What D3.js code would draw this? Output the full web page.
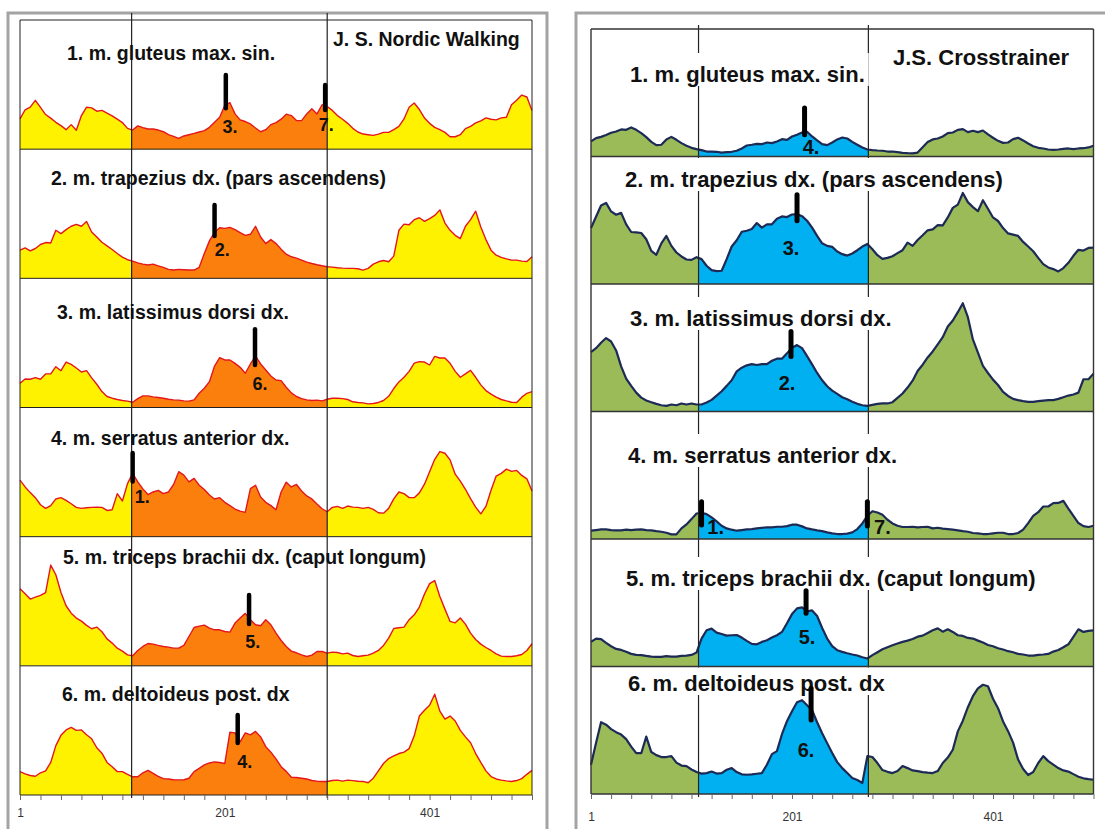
<!DOCTYPE html>
<html>
<head>
<meta charset="utf-8">
<script src="https://cdn.jsdelivr.net/npm/d3@7"></script>
<style>
  body { margin: 0; background: #fff; }
  svg { display: block; font-family: 'Liberation Sans', Arial, sans-serif; }
</style>
</head>
<body>
<svg id="chart" width="1105" height="829"></svg>
<script>
// sample index of every value below (one reading every 5 samples)
const samples = d3.range(1, 502, 5)
const tickLabels = ['1', '201', '401']

const rowTitles = [
  '1. m. gluteus max. sin.',
  '2. m. trapezius dx. (pars ascendens)',
  '3. m. latissimus dorsi dx.',
  '4. m. serratus anterior dx.',
  '5. m. triceps brachii dx. (caput longum)',
  '6. m. deltoideus post. dx'
]

// J. S. Nordic Walking, % of row height
const nordicGluteus = [23.4,30.5,32.5,37.8,32.3,26.8,24,20.8,18.2,15.1,19,14.6,26,32.5,32,29.4,30,27.9,25.8,23.2,20.6,16.1,14.8,18,16.7,15.6,15.6,14.8,13.5,11.2,9.9,8.3,10.2,11.2,12.2,13.3,14.3,16.9,20.8,24.7,33.9,36,27.3,22.7,21.4,19.5,16.4,13.5,15.1,19,20.6,23.2,27.1,26,22.1,22.1,27.3,31.3,27.3,34.4,33,30,26,23.2,20,16.1,13.3,11.7,11.2,10.7,11.7,13,13,15.1,17.7,23.4,32.5,35.7,30.7,24.2,20,16.9,15.1,13,9.6,9.6,11.2,15.9,17.7,20.3,21.9,24.2,23.2,22.7,24.2,24.7,34.4,37.8,41.9,40.4,30]
const nordicTrapezius = [21.8,23.6,21.3,23.1,26.2,27.7,27.4,37.2,34.6,37.7,40.3,41.8,40.3,44,35.9,32,27.9,25.1,22.3,19.2,16.4,14.4,13.3,12,11,10.3,11,9.7,8.5,6.9,6.4,6.9,6.7,6.4,6.4,8.5,19.2,29,35.6,39.2,38.7,39.5,37.7,35.4,33.3,34.1,40.3,32,26.9,30,26.9,22.6,18.7,16.7,15.6,14.1,12.6,11.5,10.5,9.7,9,8.7,8.2,7.9,7.7,7.7,7.4,6.4,7.7,11,12.8,13.8,12.8,17.2,37.2,42,41.5,45.4,46.9,44.1,46.2,48.7,53,42.8,37.2,33.3,30.8,40.3,45.4,52,39.7,30,21.8,17.9,16.2,15.1,14.1,14.1,13.3,13,16.7]
const nordicLatissimus = [18.8,22.1,21.9,23.1,21.9,26,26,31.6,28.5,35.2,33.4,30.6,27.5,28.5,22.9,18,12.3,8.5,7.2,6.2,5.4,4.9,4.1,6.9,9,9,8.2,7.7,7.2,6.4,5.9,5.7,5.1,4.9,5.9,11,14.9,20,32.1,38.6,36.8,36.8,34.2,31.1,26.5,33.7,39.8,33.7,29,24.4,21.3,20.8,15.7,11.3,8.5,6.9,5.9,5.4,5.7,5.1,6.4,7.2,7.2,6.9,6.2,4.4,3.9,3.6,2.8,3.1,3.9,5.4,8.7,14.7,19.8,23.4,28,34.4,35.5,35.2,32.9,39.6,38.3,38.3,34.2,28,23.4,26,28.8,23.4,17.5,13.1,10.3,8,6.2,5.1,4.1,3.9,8,11,12.3]
const nordicSerratus = [43.8,38.5,34.1,30.2,24.7,21.9,24,29.2,30.2,28.1,25.5,22.7,21.9,22.4,22.7,22.9,22.7,20.3,20.8,33.3,27.6,41.1,49,42.4,37,32.6,34.6,35.9,33.3,34.6,40.4,50.3,47.7,42.4,45.1,39.8,36.5,32.3,29.2,30.2,26.6,24,21.4,19.8,18.8,37.2,39.8,30.7,26.6,24,20.8,34.6,42.2,38.5,40.4,35.4,31.5,29.2,25.3,21.6,19.3,22.7,23.4,21.9,23.7,22.9,22.7,21.9,22.7,21.1,18.5,18.2,21.9,29.2,34.6,33.3,30.2,30.2,33.9,40.6,50.3,59.9,65.9,64.6,59.4,48.4,43,36.7,29.4,22.9,17.7,23.4,35.9,46.9,49,52.3,50.5,51.3,47.4,44.8,35.4]
const nordicTriceps = [59.7,55.8,51.7,53.2,54.5,56.6,78,70.5,56.8,46.5,40.8,37,34.6,31.3,28.7,30,26.4,20.9,17.6,13.7,11.4,8.5,7.8,11.9,15,17.3,16.8,15.8,15,14.5,13.7,13.7,15.8,22.7,29.7,30.7,31.5,29.2,27.9,27.9,26.6,26.1,33.1,37,40.6,35.7,31.8,31,35.7,31.8,25.3,19.6,15,11.4,10.1,8.5,7.2,8.3,11.1,11.1,9.8,10.6,10.3,9.3,9.8,8,7.2,7.8,8.3,9.8,11.9,15.8,21.4,28.9,29.5,30,35.7,39.5,45.5,55.6,63.6,66,53.7,43.9,34.4,33.3,37,32.3,25.3,20.4,16.8,14.2,11.9,9.3,7.5,7.2,7.2,7.8,8.8,11.9,17.1]
const nordicDeltoid = [18.1,16.4,15.1,14.5,17.2,18.7,25.2,38.2,46.2,50.4,52.3,50,50.4,46.7,43.5,36.6,32.4,25.2,21.8,18.1,18.1,16,14.1,14.1,17.2,19.1,16.8,14.5,12.7,12.4,11.8,11.7,11.8,13,18.1,20.6,23.3,24.8,25.6,25.2,24.4,48.6,48.1,41.2,48.1,46.6,49.2,45,37.4,33.2,28,21.9,18.3,13.7,13.5,13,12.4,11.2,10.7,10.5,10.5,11.2,11.5,10.7,11.5,11.1,10.7,10.5,9.5,13,18.7,24.4,28.2,30.2,32.1,33.2,35.9,45.8,61.1,65.6,69.5,78,64.9,58.8,61.1,57.3,50,45,40.5,32.1,25.2,18.7,14.3,12.4,11.5,10.9,10.5,11.2,12.7,16,19.1]

// J.S. Crosstrainer, % of row height
const crossGluteus = [11.8,14.4,15.4,16.8,18.6,19.6,21.2,20.9,22.8,20.9,18.3,15.2,11.5,8.9,9.2,13.4,15.4,13.1,10.5,8.4,6.8,5.8,5,3.9,3.9,3.7,3.1,3.4,3.7,4.5,6.3,8.6,9.2,9.9,9.7,11,10.5,11.8,13.6,13.1,15.7,17,18.8,19.4,15.7,12.6,9.7,8.9,11,13.4,14.9,14.1,11.5,9.2,7.1,5.5,5,4.7,4.5,3.9,3.9,3.4,2.9,2.6,2.4,3.1,7.3,11.3,13.4,14.1,15.7,18.3,18.8,20.9,21.5,19.1,20.2,19.1,20.4,17.3,14.7,12.3,10.7,11,13.6,14.7,12.6,10.2,8.1,6.8,6.3,5.5,5.2,5.5,6,6.3,5.8,6.3,6.5,7.1,8.4]
const crossTrapezius = [43.9,52.7,61.6,63.6,56.9,54.3,55.8,46.8,40.8,40.5,40,35.1,26,22.9,31.9,37.7,29.9,24.7,21.6,19.2,18.9,21,19.5,14.3,10.9,10.1,10.4,19.5,29.4,34.3,41,41.8,43.1,47.8,44.2,46.8,46.8,51.2,53,52.5,54.5,54.8,53.2,49.6,44.2,37.7,31.9,29.9,29.1,25.5,23.4,22.3,23.9,26.5,29.4,31.4,27.3,22.6,19.7,20.5,21.8,24.2,26.5,32.5,29.9,34.5,38.2,42.1,42.9,46.2,46,52.2,59.7,62.3,71.4,64.2,60.3,57.1,65.7,59,52.2,49.4,43.9,39.7,38.7,37.7,33,29.4,25.7,20.5,15.6,13,11.7,9.9,12.5,16.6,22.1,26.8,26.2,28.3,28.6]
const crossLatissimus = [46.6,49.7,53.9,57.6,54.9,47.9,35.4,25.8,20.1,14.8,10.9,8.6,7.3,6,4.9,4.4,5.5,4.9,6.3,5.5,6.3,5.5,5.5,7,9.1,12.5,15.9,20.1,24.5,31.5,34.4,36.2,37.2,36.5,37.2,37.2,39.8,41.4,41.4,45.6,50,52.1,49.7,43.5,37,30.2,24.5,19.8,16.4,13.8,11.2,9.6,7.6,6,4.9,4.4,5.2,6,6.3,6.3,7.3,10.7,14.1,18.8,24.2,31.8,36.7,42.4,47.1,52.6,58.3,66.7,71.4,77.9,84.9,74,56.5,46.1,35.7,30.2,25,20.8,15.4,12.2,9.9,8.9,8.1,7.6,7.6,8.1,8.6,8.9,8.9,9.9,11.2,12.5,13.3,14.8,25.3,25.3,29.7]
const crossSerratus = [6.5,7,7.5,7.5,7,6.8,6.8,7.3,7,7.3,7.5,7,6.8,6.2,5.7,4.9,3.6,3.6,8.3,11.4,15.6,20,20.5,19.5,16.9,13.8,10.4,8.3,7.3,6.5,7,7.5,7.8,8.3,8.8,9.1,9.1,9.6,9.6,10.1,11.2,11.2,9.9,8.3,7.5,6.8,6.2,5.2,4.4,3.9,3.9,4.2,5.2,7.8,12.2,18.2,21.8,20.8,19,15.1,12.2,10.4,9.4,9.4,9.6,9.1,9.4,9.6,8.3,8.8,8.1,7.8,7.3,6.8,6.2,5.7,4.7,4.4,3.9,3.9,4.4,4.9,4.9,3.9,3.9,4.7,7.3,12.5,18.2,21,25.5,25.5,28.1,28.3,29.9,23.9,18.2,12.5,10.1,9.4,10.4]
const crossTriceps = [19.3,21.9,21.4,18.5,15.9,13.8,13,11.5,9.9,9.1,8.9,8.3,7.8,7.6,7.6,8.1,7.8,7.8,8.3,8.6,9.1,10.9,21.9,28.4,29.7,26.6,25.5,24.2,24.5,24.7,22.7,20.1,17.7,17.4,19.3,20.6,22.7,24.5,27.1,33.9,41.1,45.6,46.4,43.2,44,39.6,30.2,21.9,15.9,12.8,11.5,10.4,9.4,8.6,7.3,6.3,8.9,11.2,13.5,15.1,16.7,18,19.3,20.3,21.6,23.4,24.2,26.3,28.4,29.9,27.3,29.2,27.1,24.5,24,22.4,21.9,20.3,18.8,16.9,15.9,14.3,13.3,12,11.2,9.9,9.4,8.6,8.6,9.1,9.4,9.9,11.7,13,15.1,17.4,23.2,29.2,27.1,27.9,28.4]
const crossDeltoid = [23,40,56.3,54.4,50.9,48.5,46.6,43,37.2,32.1,32,45,32.9,30.5,29,29,29.7,24.6,22.3,21.9,19.2,17.2,16,16.4,17.6,16,16.4,19,20.3,17.2,15.4,15.1,15.4,15.9,16.4,22.9,31.3,33.6,46.9,57.1,64.9,72,73.6,69.6,65.7,56.3,47.7,39.9,32.1,25,20.3,16.4,12.5,11,8.6,29.7,29,24.3,18.8,17.4,16.4,18,21.9,20.3,18.5,18,17.2,16.7,16.4,18,24.3,28.6,34.7,49.1,57.5,68.1,76.7,82.9,85.7,84.5,74.7,67.3,56.9,49.3,40.3,27,19.6,14.9,17.2,24.3,29.7,25.8,23.1,20.3,18.5,17.6,15.6,13.5,12.3,11.7,11.2]

// phase borders (sample index)
const nordicDividers = [110, 301]
const crossDividers = [108, 277]

// hand drawn marks: sample, value range, label and where the label sits
const nordicMarkers = [
  { row: 0, sample: 202, from: 31.7, to: 57.4, label: '3.', ls: 206, lv: 17.4 },
  { row: 0, sample: 299, from: 30.3, to: 49.7, label: '7.', ls: 300, lv: 18.7 },
  { row: 1, sample: 191, from: 32.7, to: 56.7, label: '2.', ls: 198.6, lv: 21.9 },
  { row: 2, sample: 230.5, from: 32.9, to: 60.5, label: '6.', ls: 235.4, lv: 18.2 },
  { row: 3, sample: 111, from: 42.8, to: 64.8, label: '1.', ls: 120.5, lv: 31 },
  { row: 4, sample: 224.7, from: 32.4, to: 54.8, label: '5.', ls: 228.2, lv: 18.7 },
  { row: 5, sample: 213.6, from: 40.2, to: 61.9, label: '4.', ls: 220.5, lv: 25.8 }
]
const crossMarkers = [
  { row: 0, sample: 213.5, from: 17, to: 38, label: '4.', ls: 220, lv: 7.7 },
  { row: 1, sample: 206, from: 49.6, to: 70, label: '3.', ls: 200, lv: 28 },
  { row: 2, sample: 200, from: 43.2, to: 62.8, label: '2.', ls: 196, lv: 22.7 },
  { row: 3, sample: 111, from: 11, to: 29.3, label: '1.', ls: 125, lv: 9.6 },
  { row: 3, sample: 276, from: 10.2, to: 29.3, label: '7.', ls: 291, lv: 9.6 },
  { row: 4, sample: 215, from: 41.7, to: 59.5, label: '5.', ls: 216, lv: 23.4 },
  { row: 5, sample: 220, from: 58, to: 82.9, label: '6.', ls: 215, lv: 34.5 }
]

const svg = d3.select('#chart')

/**
 * Draws one stack of six EMG rows.
 * @param L - layout of the panel.
 * @param series - six value arrays.
 * @param dividers - the two phase borders.
 * @param markers - hand drawn marks.
 */
function drawPanel(L, series, dividers, markers) {
  const x = d3.scaleLinear().domain([1, 501]).range([L.x0, L.x1])
  const rowH = (L.y1 - L.y0) / series.length
  const g = svg.append('g')

  g.append('rect')
    .attr('x', L.frame[0]).attr('y', L.frame[1])
    .attr('width', L.frame[2]).attr('height', L.frame[3])
    .attr('fill', 'none').attr('stroke', '#a3a3a3').attr('stroke-width', 3)

  g.append('clipPath').attr('id', L.id + '-mid')
    .append('rect')
    .attr('x', x(dividers[0])).attr('y', L.y0)
    .attr('width', x(dividers[1]) - x(dividers[0])).attr('height', L.y1 - L.y0)

  const yOf = r => d3.scaleLinear().domain([0, 100])
    .range([L.y0 + (r + 1) * rowH, L.y0 + r * rowH])

  series.forEach((values, r) => {
    const y = yOf(r)
    const area = d3.area()
      .x((d, i) => x(samples[i]))
      .y0(y(0))
      .y1(d => y(d))
    const line = d3.line()
      .x((d, i) => x(samples[i]))
      .y(d => y(d))

    g.append('path').datum(values).attr('d', area).attr('fill', L.outerFill)
    g.append('path').datum(values).attr('d', area).attr('fill', L.innerFill)
      .attr('clip-path', 'url(#' + L.id + '-mid)')
    g.append('path').datum(values).attr('d', line)
      .attr('fill', 'none').attr('stroke', L.lineColor)
      .attr('stroke-width', L.lineWidth).attr('stroke-linejoin', 'round')
  })

  dividers.forEach(s => {
    g.append('line')
      .attr('x1', x(s)).attr('x2', x(s))
      .attr('y1', L.dividerTop).attr('y2', L.y1 + 3)
      .attr('stroke', '#222').attr('stroke-width', 1.2)
  })

  rowTitles.forEach((title, r) => {
    const tg = g.append('g')
    const box = tg.append('rect').attr('fill', '#fff')
    const t = tg.append('text')
      .attr('x', L.titleX[r]).attr('y', L.titleY[r]).attr('dy', '0.35em')
      .attr('font-size', L.titleSize).attr('font-weight', 'bold').attr('fill', '#111')
      .text(title)
    if (L.titleBox) {
      const b = t.node().getBBox()
      const top = Math.max(L.y0 + r * rowH + 1, L.titleY[r] - 21)
      box.attr('x', b.x - 4).attr('y', top)
        .attr('width', b.width + 8).attr('height', L.titleY[r] + 12 - top)
    } else {
      box.remove()
    }
  })

  g.append('text')
    .attr('x', L.header[0]).attr('y', L.header[1]).attr('dy', '0.35em')
    .attr('font-size', L.titleSize).attr('font-weight', 'bold').attr('fill', '#111')
    .text(L.headerText)

  // row borders
  d3.range(series.length + 1).forEach(r => {
    g.append('line')
      .attr('x1', L.x0).attr('x2', L.x1)
      .attr('y1', L.y0 + r * rowH).attr('y2', L.y0 + r * rowH)
      .attr('stroke', L.borderColor).attr('stroke-width', L.borderWidth)
  })
  ;[L.x0, L.x1].forEach(v => {
    g.append('line')
      .attr('x1', v).attr('x2', v).attr('y1', L.y0).attr('y2', L.y1)
      .attr('stroke', L.borderColor).attr('stroke-width', L.borderWidth)
  })

  markers.forEach(m => {
    const y = yOf(m.row)
    g.append('line')
      .attr('x1', x(m.sample)).attr('x2', x(m.sample))
      .attr('y1', y(m.to)).attr('y2', y(m.from))
      .attr('stroke', '#000').attr('stroke-width', L.markerWidth)
      .attr('stroke-linecap', 'round')
    g.append('text')
      .attr('x', x(m.ls)).attr('y', y(m.lv)).attr('dy', '0.35em')
      .attr('text-anchor', 'middle').attr('font-size', L.labelSize)
      .attr('font-weight', 'bold').attr('fill', '#111')
      .text(m.label)
  })

  const axis = d3.axisBottom(x)
    .tickValues(d3.range(1, 502, 20))
    .tickSize(5)
    .tickPadding(L.axisPad)
    .tickFormat(d => tickLabels.indexOf(String(d)) >= 0 ? String(d) : '')
  const ax = g.append('g')
    .attr('transform', 'translate(0,' + L.y1 + ')')
    .call(axis)
  ax.select('.domain').remove()
  ax.selectAll('line').attr('stroke', '#666')
  ax.selectAll('text').attr('font-size', 12).attr('fill', '#333')
    .attr('font-family', "'Liberation Sans', Arial, sans-serif")
}

drawPanel({
  id: 'nw', frame: [8, 13, 539, 840],
  x0: 20, x1: 532, y0: 20, y1: 795, dividerTop: 13,
  outerFill: '#fff200', innerFill: '#fb7f0c', lineColor: '#e3171d', lineWidth: 1.4,
  borderColor: '#222', borderWidth: 1,
  titleSize: 19.5, titleX: [67, 51, 57, 51, 63, 62], titleY: [53, 178, 312, 438, 557, 694],
  titleBox: false, header: [333, 39], headerText: 'J. S. Nordic Walking',
  markerWidth: 4.5, labelSize: 18, axisPad: 8
}, [nordicGluteus, nordicTrapezius, nordicLatissimus, nordicSerratus, nordicTriceps, nordicDeltoid],
nordicDividers, nordicMarkers)

drawPanel({
  id: 'ct', frame: [576, 13, 560, 840],
  x0: 591, x1: 1093.5, y0: 29, y1: 794, dividerTop: 25,
  outerFill: '#9bbb59', innerFill: '#00b0f0', lineColor: '#1c2a55', lineWidth: 2.2,
  borderColor: '#333', borderWidth: 1.4,
  titleSize: 22, titleX: [630, 625, 630, 628, 626, 628], titleY: [74, 179, 318, 455, 578, 683],
  titleBox: true, header: [893, 57], headerText: 'J.S. Crosstrainer',
  markerWidth: 5, labelSize: 20, axisPad: 13
}, [crossGluteus, crossTrapezius, crossLatissimus, crossSerratus, crossTriceps, crossDeltoid],
crossDividers, crossMarkers)
</script>
</body>
</html>
